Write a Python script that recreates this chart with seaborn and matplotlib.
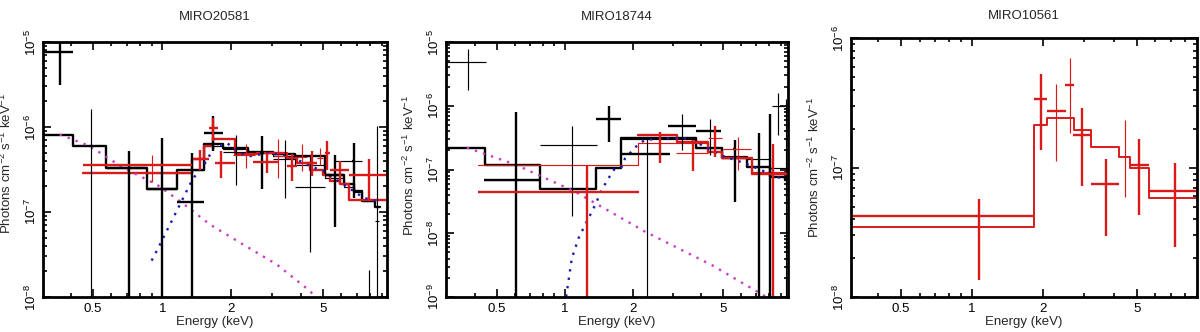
import matplotlib
matplotlib.use('Agg')
import matplotlib.pyplot as plt
import matplotlib.ticker as mticker
import seaborn as sns
import numpy as np

# ---- MIRO20581 -------------------------------------------------------
# rows: E, E_lo, E_hi, flux, flux_lo, flux_hi   (1e-12 = error bar to the floor)
p1_black_thick = [
    (0.358, 0.306, 0.410, 7.6e-6, 3.1e-6, 1.2e-5),
    (0.716, 0.573, 0.855, 3.3e-7, 1e-12, 5.15e-7),
    (1.00, 0.855, 1.155, 1.87e-7, 1e-12, 7.4e-7),
    (1.342, 1.155, 1.52, 1.30e-7, 1e-12, 4.9e-7),
    (1.668, 1.52, 1.844, 8.6e-7, 5.15e-7, 1.33e-6),
    (2.71, 2.65, 2.77, 5.0e-7, 1.86e-7, 7.9e-7),
    (5.65, 5.11, 6.14, 2.74e-7, 6.6e-8, 4.7e-7),
    (6.79, 6.70, 6.88, 4.0e-7, 1.47e-7, 6.45e-7),
]
p1_black_thin = [
    (0.492, 0.48, 0.50, 5.9e-7, 1e-12, 1.64e-6),
    (2.09, 1.844, 2.37, 5.06e-7, 2.09e-7, 8.1e-7),
    (3.42, 3.04, 3.78, 4.23e-7, 1.46e-7, 7.08e-7),
    (4.40, 3.78, 5.11, 1.96e-7, 3.42e-8, 4.71e-7),
    (6.60, 5.66, 7.38, 4.0e-7, 4.0e-7, 4.0e-7),
    (7.89, 7.89, 7.89, 5e-9, 1e-12, 2.09e-8),
    (8.58, 8.44, 8.75, 7.87e-8, 1e-12, 1.02e-6),
]
p1_red_thick = [
    (0.899, 0.453, 1.342, 3.53e-7, 3.53e-7, 3.53e-7),
    (1.459, 1.355, 1.60, 4.23e-7, 3.13e-7, 5.4e-7),
    (1.668, 1.59, 1.75, 9.73e-7, 6.76e-7, 1.27e-6),
    (1.795, 1.70, 2.07, 3.76e-7, 2.5e-7, 5.15e-7),
    (2.85, 2.49, 3.21, 3.83e-7, 2.9e-7, 5.0e-7),
    (3.66, 3.47, 3.84, 3.46e-7, 2.3e-7, 4.75e-7),
    (4.47, 4.18, 4.70, 3.79e-7, 2.64e-7, 5.2e-7),
    (5.23, 5.10, 5.36, 4.98e-7, 3.16e-7, 6.77e-7),
    (5.94, 5.37, 6.46, 3.08e-7, 2.11e-7, 3.97e-7),
    (7.89, 6.46, 9.49, 2.76e-7, 1.34e-7, 4.15e-7),
]
p1_red_thin = [
    (0.899, 0.899, 0.899, 3.53e-7, 2.28e-7, 4.71e-7),
    (2.31, 2.04, 2.53, 4.67e-7, 3.31e-7, 6.23e-7),
    (3.20, 3.06, 3.46, 4.54e-7, 2.52e-7, 7.14e-7),
    (4.04, 3.78, 4.25, 4.42e-7, 3.03e-7, 6.23e-7),
    (4.86, 4.70, 5.02, 4.35e-7, 3.62e-7, 5.69e-7),
]
p1_black_edges = [0.303, 0.41, 0.572, 0.855, 1.154, 1.519, 1.844, 2.37, 3.04, 3.78, 5.11, 6.14, 6.79, 7.38, 8.44, 8.87]
p1_black_model = [8.1e-7, 5.9e-7, 3.28e-7, 1.87e-7, 3.08e-7, 6.24e-7, 5.69e-7, 5.11e-7, 4.75e-7, 4.5e-7,
                  2.71e-7, 2.11e-7, 1.79e-7, 1.36e-7, 1.15e-7]
p1_black2_edges = [0.855, 1.342, 1.519, 1.844, 2.37, 3.04, 3.78, 5.11, 6.14, 6.79, 7.38, 8.44]
p1_black2_model = [2.9e-7, 3.08e-7, 6.0e-7, 5.5e-7, 5.0e-7, 4.6e-7, 3.6e-7, 2.5e-7, 1.95e-7, 1.7e-7, 1.36e-7]
p1_red_edges = [0.453, 1.342, 1.519, 1.668, 2.073, 2.58, 3.48, 3.85, 4.40, 5.02, 5.37, 5.94, 6.46, 9.49]
p1_red_model = [2.88e-7, 4.23e-7, 5.9e-7, 7.27e-7, 4.75e-7, 4.97e-7, 4.34e-7, 3.79e-7, 3.16e-7, 2.76e-7,
                2.31e-7, 2.11e-7, 1.38e-7]
p1_hot_E = [0.899, 0.961, 1.027, 1.098, 1.174, 1.255, 1.342, 1.435, 1.56, 1.668, 1.906, 2.18, 2.41, 2.94,
            3.72, 4.40, 5.03, 6.14, 7.51, 8.58]
p1_hot_F = [2.68e-8, 3.78e-8, 5.43e-8, 7.8e-8, 1.12e-7, 1.61e-7, 2.31e-7, 3.03e-7, 3.97e-7, 5.69e-7, 6.52e-7,
            4.97e-7, 4.54e-7, 4.97e-7, 4.34e-7, 3.46e-7, 3.03e-7, 2.11e-7, 1.47e-7, 1.34e-7]
p1_pow_E = [0.358, 0.484, 0.676, 0.945, 1.194, 1.613, 2.25, 3.15, 4.40, 4.62]
p1_pow_F = [8.17e-7, 5.96e-7, 3.31e-7, 2.11e-7, 1.34e-7, 7.12e-8, 4.14e-8, 2.41e-8, 1.17e-8, 1.0e-8]

# ---- MIRO18744 -------------------------------------------------------
p2_black_thick = [
    (0.606, 0.441, 0.776, 6.93e-8, 1e-12, 7.98e-7),
    (1.569, 1.379, 1.778, 6.27e-7, 2.7e-7, 9.8e-7),
    (2.31, 1.778, 2.91, 1.75e-7, 1.75e-7, 1.75e-7),
    (3.30, 2.86, 3.81, 4.75e-7, 4.75e-7, 4.75e-7),
    (4.36, 3.81, 4.91, 3.97e-7, 3.97e-7, 3.97e-7),
    (5.62, 5.55, 5.70, 2.07e-7, 3.09e-8, 2.87e-7),
    (7.18, 7.10, 7.25, 1.11e-7, 1e-12, 3.74e-7),
    (8.05, 8.00, 8.10, 8e-8, 1e-12, 7.3e-7),
]
p2_black_thin = [
    (0.372, 0.296, 0.448, 4.86e-6, 1.79e-6, 7.86e-6),
    (0.606, 0.441, 0.776, 6.93e-8, 6.93e-8, 6.93e-8),
    (1.077, 0.776, 1.388, 2.45e-7, 1.84e-8, 4.75e-7),
    (2.31, 2.31, 2.31, 1.75e-7, 1e-12, 3.12e-7),
    (3.30, 3.30, 3.30, 4.75e-7, 2.0e-7, 7.51e-7),
    (4.36, 4.36, 4.36, 3.97e-7, 1.67e-7, 6.27e-7),
    (8.76, 8.20, 9.50, 9.8e-7, 3.44e-7, 1.6e-6),
    (9.50, 9.45, 9.55, 3e-7, 1e-12, 1.29e-6),
]
p2_red_thick = [
    (1.259, 0.415, 2.13, 4.44e-8, 1e-12, 1.16e-7),
    (2.63, 2.60, 2.66, 2.73e-7, 1.27e-7, 3.87e-7),
    (3.68, 3.66, 3.70, 1.84e-7, 9.47e-8, 2.87e-7),
    (4.59, 4.55, 4.63, 3.16e-7, 1.57e-7, 4.75e-7),
    (8.27, 7.88, 9.83, 8.61e-8, 1e-12, 2.48e-7),
]
p2_red_thin = [
    (3.68, 3.11, 4.29, 1.84e-7, 1.84e-7, 1.84e-7),
    (4.59, 4.30, 4.93, 3.16e-7, 3.16e-7, 3.16e-7),
    (5.82, 5.00, 6.66, 2.07e-7, 9.94e-8, 3.24e-7),
]
p2_black_edges = [0.296, 0.443, 0.776, 1.379, 1.778, 3.81, 4.93, 6.35, 8.05, 9.38, 9.7]
p2_black_model = [2.17e-7, 1.19e-7, 4.89e-8, 1.06e-7, 3.16e-7, 2.15e-7, 1.53e-7, 1.11e-7, 7.72e-8, 6.85e-8]
p2_black2_edges = [1.778, 3.81, 4.93, 6.35, 8.05, 9.7]
p2_black2_model = [3.0e-7, 2.2e-7, 1.6e-7, 1.44e-7, 1.05e-7]
p2_red_edges = [2.11, 3.12, 4.30, 4.93, 6.68, 9.9]
p2_red_model = [3.48e-7, 2.73e-7, 1.91e-7, 1.53e-7, 8.5e-8]
p2_red2_edges = [0.415, 2.11, 3.12, 4.30, 4.93, 6.68, 9.9]
p2_red2_model = [1.16e-7, 2.57e-7, 2.6e-7, 1.95e-7, 1.5e-7, 9.0e-8]
p2_hot_E = [1.014, 1.074, 1.149, 1.229, 1.294, 1.361, 1.456, 1.558, 1.667, 1.784, 1.846, 2.11, 2.26, 2.68,
            3.40, 3.89, 4.93, 6.25, 7.65, 9.38]
p2_hot_F = [1.01e-9, 4.04e-9, 8.32e-9, 1.35e-8, 1.93e-8, 2.77e-8, 4.77e-8, 7.27e-8, 1.05e-7, 1.11e-7, 1.5e-7,
            2.48e-7, 2.9e-7, 3.08e-7, 3.08e-7, 2.57e-7, 1.65e-7, 1.25e-7, 9.25e-8, 6.85e-8]
p2_pow_E = [0.3695, 0.604, 1.11, 2.26, 4.45, 7.76]
p2_pow_F = [2.2e-7, 1.2e-7, 4.49e-8, 1.06e-8, 3.18e-9, 1.0e-9]

# ---- MIRO10561 -------------------------------------------------------
p3_red_thick = [
    (1.077, 0.306, 1.84, 4.21e-8, 1.36e-8, 5.70e-8),
    (1.96, 1.84, 2.09, 3.37e-7, 1.38e-7, 5.30e-7),
    (2.27, 2.09, 2.50, 2.74e-7, 2.74e-7, 2.74e-7),
    (2.60, 2.48, 2.72, 4.36e-7, 4.36e-7, 4.36e-7),
    (2.93, 2.69, 3.19, 1.79e-7, 7.23e-8, 2.87e-7),
    (3.70, 3.19, 4.21, 7.41e-8, 2.95e-8, 1.16e-7),
    (5.14, 4.71, 5.63, 1.04e-7, 4.28e-8, 1.68e-7),
    (7.30, 5.63, 9.02, 6.58e-8, 2.44e-8, 1.08e-7),
]
p3_red_thin = [
    (2.27, 2.27, 2.27, 2.74e-7, 1.13e-7, 4.43e-7),
    (2.60, 2.60, 2.60, 4.36e-7, 1.84e-7, 7.0e-7),
    (4.46, 4.46, 4.46, 1.45e-7, 5.88e-8, 2.33e-7),
]
p3_red_edges = [0.306, 1.84, 2.09, 2.72, 3.19, 4.21, 4.71, 5.63, 9.02]
p3_red_model = [3.48e-8, 2.13e-7, 2.44e-7, 1.97e-7, 1.45e-7, 1.20e-7, 9.87e-8, 5.83e-8]

titles = ['MIRO20581', 'MIRO18744', 'MIRO10561']
xlims = [(0.303, 9.49), (0.298, 9.67), (0.306, 9.02)]
ylims = [(1e-8, 1e-5), (1e-9, 1e-5), (1e-8, 1e-6)]
xtick_vals = [0.5, 1, 2, 5]
xtick_labels = ['0.5', '1', '2', '5']

RED = '#d91a1a'
BLACK = '#000000'
MAGENTA = '#c83cc8'
BLUE = '#1c1cb0'
THICK = 1.7
THIN = 0.85

sns.set_theme(style="ticks")
plt.rcParams['font.family'] = ['Liberation Sans', 'DejaVu Sans']
plt.rcParams['mathtext.default'] = 'regular'


def step(ax, edges, vals, color, lw):
    sns.lineplot(x=list(edges), y=list(vals) + [vals[-1]], ax=ax, color=color, lw=lw,
                 drawstyle='steps-post', estimator=None, sort=False)


def dotted(ax, e, f, color):
    sns.lineplot(x=e, y=f, ax=ax, color=color, lw=1.7, estimator=None, sort=False,
                 linestyle=(0, (1, 2.6)))


def crosses(ax, rows, color, lw):
    E, Elo, Ehi, F, Flo, Fhi = map(np.array, zip(*rows))
    ax.errorbar(E, F, xerr=[E - Elo, Ehi - E], yerr=[F - Flo, Fhi - F], fmt='none',
                ecolor=color, elinewidth=lw, capsize=0)


fig = plt.figure(figsize=(12, 3.32), dpi=100)
positions = [
    [43 / 1200, 35 / 332, 344 / 1200, 255 / 332],
    [445.7 / 1200, 35 / 332, 342.3 / 1200, 255 / 332],
    [850.7 / 1200, 35 / 332, 346.3 / 1200, 258.7 / 332],
]
axes = [fig.add_axes(p) for p in positions]
for ax in axes:
    ax.set_xscale('log')
    ax.set_yscale('log')

# panel 1
ax = axes[0]
step(ax, p1_black_edges, p1_black_model, BLACK, THICK)
step(ax, p1_black2_edges, p1_black2_model, BLACK, THIN)
step(ax, p1_red_edges, p1_red_model, RED, THICK)
dotted(ax, p1_pow_E, p1_pow_F, MAGENTA)
dotted(ax, p1_hot_E, p1_hot_F, BLUE)
crosses(ax, p1_black_thick, BLACK, THICK)
crosses(ax, p1_black_thin, BLACK, THIN)
crosses(ax, p1_red_thick, RED, THICK)
crosses(ax, p1_red_thin, RED, THIN)

# panel 2
ax = axes[1]
step(ax, p2_black_edges, p2_black_model, BLACK, THICK)
step(ax, p2_black2_edges, p2_black2_model, BLACK, THIN)
step(ax, p2_red2_edges, p2_red2_model, RED, THIN)
step(ax, p2_red_edges, p2_red_model, RED, THICK)
dotted(ax, p2_pow_E, p2_pow_F, MAGENTA)
dotted(ax, p2_hot_E, p2_hot_F, BLUE)
crosses(ax, p2_black_thick, BLACK, THICK)
crosses(ax, p2_black_thin, BLACK, THIN)
crosses(ax, p2_red_thick, RED, THICK)
crosses(ax, p2_red_thin, RED, THIN)

# panel 3
ax = axes[2]
step(ax, p3_red_edges, p3_red_model, RED, 1.4)
crosses(ax, p3_red_thick, RED, THICK)
crosses(ax, p3_red_thin, RED, THIN)

title_pads = [16, 16, 14]
ylabel_y = [0.525, 0.518, 0.5]
for i, ax in enumerate(axes):
    ax.set_xlim(*xlims[i])
    ax.set_ylim(*ylims[i])
    ax.set_xticks(xtick_vals)
    ax.set_xticklabels(xtick_labels)
    ax.xaxis.set_minor_locator(mticker.FixedLocator([0.3, 0.4, 0.6, 0.7, 0.8, 0.9, 3, 4, 6, 7, 8, 9]))
    ax.xaxis.set_minor_formatter(mticker.NullFormatter())
    lo, hi = ylims[i]
    decs = np.arange(int(round(np.log10(lo))), int(round(np.log10(hi))) + 1)
    ax.set_yticks([10.0 ** d for d in decs])
    ax.set_yticklabels([f'$10^{{{d}}}$' for d in decs])
    ax.yaxis.set_minor_locator(mticker.LogLocator(base=10, subs=np.arange(2, 10), numticks=20))
    ax.yaxis.set_minor_formatter(mticker.NullFormatter())
    ax.tick_params(which='both', direction='in', top=True, right=True, colors='black',
                   labelsize=9.5, width=1.2)
    ax.tick_params(which='major', length=6)
    ax.tick_params(which='minor', length=3)
    ax.tick_params(axis='x', pad=4)
    ax.tick_params(axis='y', pad=3)
    plt.setp(ax.get_yticklabels(), rotation=90, va='center')
    for s in ax.spines.values():
        s.set_linewidth(2.0)
        s.set_color('black')
    ax.set_title(titles[i], fontsize=9.5, pad=title_pads[i])
    ax.set_xlabel('Energy (keV)', fontsize=9.5)
    ax.set_ylabel('Photons cm$^{-2}$ s$^{-1}$ keV$^{-1}$', fontsize=9.5)
    ax.xaxis.set_label_coords(0.5, -0.075)
    ax.yaxis.set_label_coords(-0.084, ylabel_y[i])

fig.savefig('out.png', dpi=100)
plt.close(fig)
